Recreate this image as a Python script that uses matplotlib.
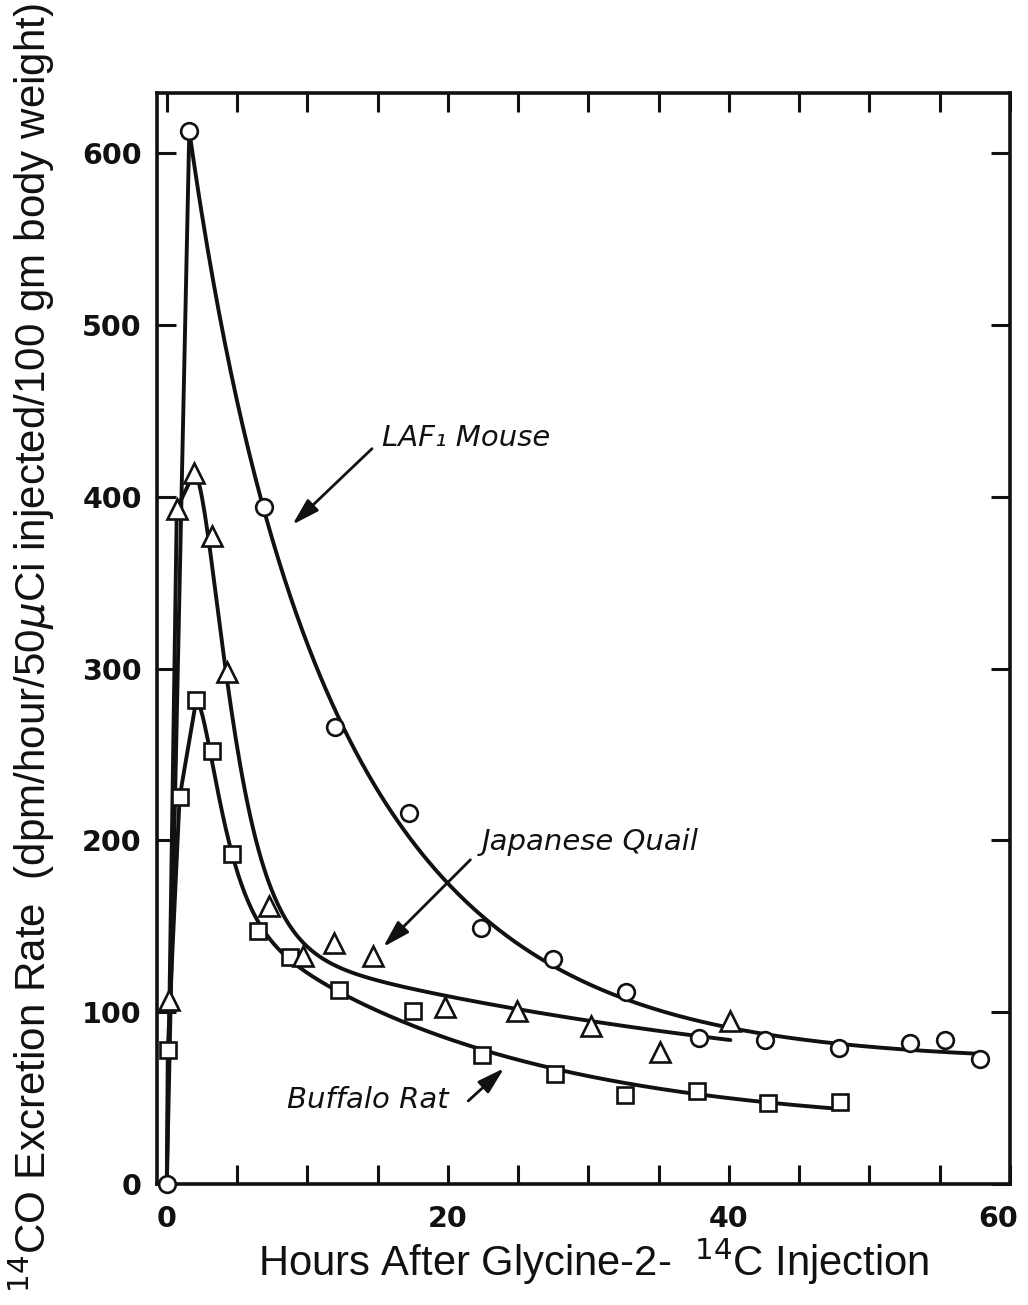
import numpy as np
import matplotlib
matplotlib.use('Agg')
import matplotlib.pyplot as plt
from matplotlib.ticker import MultipleLocator
from matplotlib.transforms import ScaledTranslation

# ---------------- data ----------------
mouse_t = [0.0, 1.6, 6.95, 11.97, 17.2, 22.35, 27.5, 32.7, 37.9, 42.6, 47.8, 52.9, 55.4, 57.9]
mouse_y = [0, 613, 394, 266, 216, 149, 131, 112, 85, 84, 79, 82, 84, 73]

quail_t = [0.0, 0.19, 0.71, 1.94, 3.19, 4.25, 7.25, 9.7, 11.9, 14.7, 19.8, 24.9, 30.2, 35.1, 40.1]
quail_y = [0, 107, 393, 414, 377, 298, 162, 133, 140, 133, 103, 101, 92, 77, 95]

rat_t = [0.0, 0.07, 0.91, 2.1, 3.18, 4.65, 6.5, 8.8, 12.25, 17.5, 22.4, 27.6, 32.6, 37.7, 42.8, 47.9]
rat_y = [0, 78, 225, 282, 252, 192, 147, 132, 113, 101, 75, 64, 52, 54, 47, 48]

x_ticks = [0, 20, 40, 60]
x_tick_labels = ['0', '20', '40', '60']
y_ticks = [0, 100, 200, 300, 400, 500, 600]
y_tick_labels = ['0', '100', '200', '300', '400', '500', '600']

x_label = 'Hours After Glycine-2-  $^{14}$C Injection'
y_label = '$^{14}$CO Excretion Rate  (dpm/hour/50$\\mu$Ci injected/100 gm body weight)'

# ---------------- styling ----------------
plt.rcParams['mathtext.fontset'] = 'dejavusans'
LW = 2.8
BLACK = '#111111'

fig = plt.figure(figsize=(10.28, 13.05), dpi=100)
ax = fig.add_axes([0.1527, 0.0927, 0.9825 - 0.1527, 0.9287 - 0.0927])
ax.set_xlim(-0.7, 60)
ax.set_ylim(0, 635)


def decay_fit(t, y, shoulder):
    """Least-squares smooth decay curve starting at the peak point."""
    t = np.asarray(t, float)
    y = np.asarray(y, float)
    t0 = t[0]
    w = np.ones_like(t)
    w[0] = 30.0
    best = None
    tau = t - t0
    for k1 in np.linspace(0.05, 2.0, 100):
        for k2 in np.linspace(0.003, 0.25, 60):
            if k2 >= k1:
                continue
            fast = (1 + k1 * tau) * np.exp(-k1 * tau) if shoulder else np.exp(-k1 * tau)
            A = np.column_stack([np.ones_like(t), fast, np.exp(-k2 * tau)])
            coef, *_ = np.linalg.lstsq(A * w[:, None], y * w, rcond=None)
            if coef[1] < 0 or coef[2] < 0:
                continue
            res = np.sum((w * (A @ coef - y)) ** 2)
            if best is None or res < best[0]:
                best = (res, k1, k2, coef)
    _, k1, k2, c = best

    def f(tt):
        s = tt - t0
        fast = (1 + k1 * s) * np.exp(-k1 * s) if shoulder else np.exp(-k1 * s)
        return c[0] + c[1] * fast + c[2] * np.exp(-k2 * s)
    return f


def draw_series(t, y, knot, marker, ms, first_marker, shoulder):
    t = np.asarray(t, float)
    y = np.asarray(y, float)
    ax.plot(t[:knot + 1], y[:knot + 1], '-', color=BLACK, lw=LW, zorder=2,
            solid_joinstyle='round', solid_capstyle='round')
    f = decay_fit(t[knot:], y[knot:], shoulder)
    tt = np.linspace(t[knot], t[-1], 400)
    ax.plot(tt, f(tt), '-', color=BLACK, lw=LW, zorder=2, solid_capstyle='round')
    ax.plot(t[first_marker:], y[first_marker:], ls='none', marker=marker, ms=ms,
            mfc='white', mec=BLACK, mew=1.9, zorder=4, clip_on=False)


draw_series(rat_t, rat_y, 3, 's', 11.5, 1, True)
draw_series(quail_t, quail_y, 3, '^', 14.5, 1, True)
draw_series(mouse_t, mouse_y, 1, 'o', 12, 0, False)

# ---------------- axes frame and ticks ----------------
for s in ax.spines.values():
    s.set_linewidth(2.6)
    s.set_color(BLACK)

ax.set_xticks(x_ticks)
ax.set_xticklabels(x_tick_labels)
ax.xaxis.set_minor_locator(MultipleLocator(5))
ax.set_yticks(y_ticks)
ax.set_yticklabels(y_tick_labels)

ax.tick_params(axis='both', which='both', direction='in', length=14, width=2.2,
               color=BLACK, top=True, right=True)
ax.tick_params(axis='x', which='major', pad=15, labelsize=20.5, labelcolor=BLACK)
ax.tick_params(axis='y', which='major', pad=11, labelsize=20.5, labelcolor=BLACK)
ax.tick_params(axis='y', which='minor', left=False, right=False)
for lab in ax.get_xticklabels() + ax.get_yticklabels():
    lab.set_family('DejaVu Sans')
    lab.set_fontweight('bold')

# the last x label sits a little inside the frame, as in the original
last = ax.get_xticklabels()[-1]
last.set_transform(last.get_transform() + ScaledTranslation(-12 / 100, 0, fig.dpi_scale_trans))

# ---------------- annotations ----------------
ann_font = dict(family='DejaVu Sans', style='italic', fontsize=21, color=BLACK,
                ha='left', va='center')
ax.text(15.3, 434, 'LAF\u2081 Mouse', **ann_font)
ax.text(22.4, 199, 'Japanese Quail', **ann_font)
ax.text(8.55, 48.7, 'Buffalo Rat', **ann_font)

arrow = dict(arrowstyle='-|>,head_length=0.75,head_width=0.22', lw=2.0, color=BLACK,
             shrinkA=0, shrinkB=0, mutation_scale=22)
ax.annotate('', xy=(8.94, 383.8), xytext=(14.6, 428), arrowprops=arrow)
ax.annotate('', xy=(15.4, 138), xytext=(21.6, 188.7), arrowprops=arrow)
ax.annotate('', xy=(24.0, 67.4), xytext=(21.45, 48.4), arrowprops=arrow)

# ---------------- axis labels (figure text, fitted to reference size) ----------------
xl = fig.text(594 / 1028, 1 - 1262 / 1305, x_label, ha='center', va='center',
              family='Liberation Sans', fontsize=26, color=BLACK)
yl = fig.text(32 / 1028, 1 - 648 / 1305, y_label, ha='center', va='center',
              rotation=90, family='Liberation Sans', fontsize=26, color=BLACK)

renderer = fig.canvas.get_renderer()
wx = xl.get_window_extent(renderer).width
xl.set_fontsize(xl.get_fontsize() * 672 / wx)
hy = yl.get_window_extent(renderer).height
yl.set_fontsize(yl.get_fontsize() * 1290 / hy)

fig.savefig('out.png', dpi=100, facecolor='white')
